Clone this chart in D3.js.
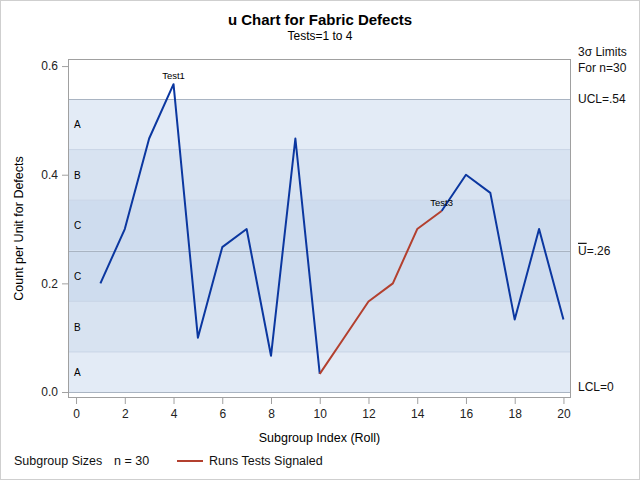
<!DOCTYPE html>
<html>
<head>
<meta charset="utf-8">
<script src="https://cdn.jsdelivr.net/npm/d3@7"></script>
<style>
  body { margin: 0; background: #fff; }
  text { font-family: "Liberation Sans", Arial, sans-serif; }
</style>
</head>
<body>
<script>
// Subgroup index (roll) and count of defects (n = 30 units per subgroup)
const subgroups = [1, 2, 3, 4, 5, 6, 7, 8, 9, 10, 11, 12, 13, 14, 15, 16, 17, 18, 19, 20];
const defects = [6, 9, 14, 17, 3, 8, 9, 2, 14, 1, 3, 5, 6, 9, 10, 12, 11, 4, 9, 4];
const sampleSize = 30;
const uValues = defects.map(d => d / sampleSize);

// Control limits
const uBar = 0.26;
const sigma = Math.sqrt(uBar / sampleSize);
const ucl = uBar + 3 * sigma;
const lcl = 0;

// Runs tests signaled: flagged subgroup range, and labels
const signaledRange = [10, 15];
const testLabels = [{ index: 4, label: 'Test1' }, { index: 15, label: 'Test3' }];

const xTicks = [0, 2, 4, 6, 8, 10, 12, 14, 16, 18, 20];
const yTicks = [0.0, 0.2, 0.4, 0.6];

const W = 640, H = 480;
const plot = { left: 68, right: 571, top: 59, bottom: 398 };

const svg = d3.select('body').append('svg')
    .attr('width', W)
    .attr('height', H);

// outer border
svg.append('rect')
    .attr('x', 0.5).attr('y', 0.5)
    .attr('width', W - 1).attr('height', H - 1)
    .attr('fill', '#fff')
    .attr('stroke', '#cfcfcf');

const x = d3.scaleLinear().domain([-0.33, 20.31]).range([plot.left, plot.right]);
const y = d3.scaleLinear().domain([-0.011, 0.613]).range([plot.bottom, plot.top]);

// Zone bands
const zones = [
    { lo: uBar + 2 * sigma, hi: ucl, fill: '#e3ebf6' },
    { lo: uBar + sigma, hi: uBar + 2 * sigma, fill: '#d8e3f1' },
    { lo: uBar, hi: uBar + sigma, fill: '#cedcee' },
    { lo: uBar - sigma, hi: uBar, fill: '#cedcee' },
    { lo: uBar - 2 * sigma, hi: uBar - sigma, fill: '#d8e3f1' },
    { lo: lcl, hi: uBar - 2 * sigma, fill: '#e3ebf6' }
];
const zoneNames = ['A', 'B', 'C', 'C', 'B', 'A'];

svg.append('g').selectAll('rect')
    .data(zones)
    .enter().append('rect')
    .attr('x', plot.left)
    .attr('width', plot.right - plot.left)
    .attr('y', d => y(d.hi))
    .attr('height', d => y(d.lo) - y(d.hi))
    .attr('fill', d => d.fill);

// zone boundary lines
svg.append('g').selectAll('line')
    .data([uBar + 2 * sigma, uBar + sigma, uBar - sigma, uBar - 2 * sigma])
    .enter().append('line')
    .attr('x1', plot.left).attr('x2', plot.right)
    .attr('y1', d => y(d)).attr('y2', d => y(d))
    .attr('stroke', '#c8d4e6').attr('stroke-width', 1);

// control lines
svg.append('g').selectAll('line')
    .data([ucl, uBar, lcl])
    .enter().append('line')
    .attr('x1', plot.left).attr('x2', plot.right)
    .attr('y1', d => Math.round(y(d)) + 0.5).attr('y2', d => Math.round(y(d)) + 0.5)
    .attr('stroke', '#a9b4c2').attr('stroke-width', 1);

// zone labels
svg.append('g').selectAll('text')
    .data(zones)
    .enter().append('text')
    .attr('x', 74)
    .attr('y', d => y((d.lo + d.hi) / 2) + 4)
    .attr('font-size', 10)
    .attr('fill', '#000')
    .text((d, i) => zoneNames[i]);

// frame
svg.append('rect')
    .attr('x', plot.left + 0.5).attr('y', plot.top + 0.5)
    .attr('width', plot.right - plot.left - 1).attr('height', plot.bottom - plot.top - 1)
    .attr('fill', 'none')
    .attr('stroke', '#a0a0a0');

// axes
const xAxis = svg.append('g')
    .attr('transform', `translate(0,${plot.bottom})`)
    .call(d3.axisBottom(x).tickValues(xTicks).tickSize(6).tickPadding(5).tickFormat(d3.format('d')));
const yAxis = svg.append('g')
    .attr('transform', `translate(${plot.left},0)`)
    .call(d3.axisLeft(y).tickValues(yTicks).tickSize(6).tickPadding(4).tickFormat(d3.format('.1f')));
[xAxis, yAxis].forEach(a => {
    a.select('.domain').remove();
    a.selectAll('line').attr('stroke', '#a0a0a0');
    a.selectAll('text').attr('font-size', 12).attr('fill', '#222')
        .attr('font-family', '"Liberation Sans", Arial, sans-serif');
});

// data line, split into normal and signaled pieces
const pts = subgroups.map((s, i) => ({ s, u: uValues[i] }));
const line = d3.line().x(d => x(d.s)).y(d => y(d.u));
const pieces = [
    { data: pts.filter(d => d.s <= signaledRange[0]), color: '#0b37a0' },
    { data: pts.filter(d => d.s >= signaledRange[1]), color: '#0b37a0' },
    { data: pts.filter(d => d.s >= signaledRange[0] && d.s <= signaledRange[1]), color: '#b3402f' }
];

svg.append('g').selectAll('path')
    .data(pieces)
    .enter().append('path')
    .attr('d', d => line(d.data))
    .attr('fill', 'none')
    .attr('stroke', d => d.color)
    .attr('stroke-width', 2)
    .attr('stroke-linejoin', 'round');

// test labels
svg.append('g').selectAll('text')
    .data(testLabels)
    .enter().append('text')
    .attr('x', d => x(d.index))
    .attr('y', d => y(uValues[d.index - 1]) - 5)
    .attr('text-anchor', 'middle')
    .attr('font-size', 9.5)
    .attr('fill', '#000')
    .text(d => d.label);

// right-side limit labels
const rx = 578;
const right = svg.append('g').attr('font-size', 12).attr('fill', '#111');
right.append('text').attr('x', rx).attr('y', 56).text('3σ Limits');
right.append('text').attr('x', rx).attr('y', 72).text('For n=30');
right.append('text').attr('x', rx).attr('y', y(ucl) + 4).text('UCL=' + d3.format('.2f')(ucl).replace(/^0/, ''));
const ubarText = right.append('text').attr('x', rx).attr('y', y(uBar) + 4);
ubarText.append('tspan').style('text-decoration', 'overline').text('U');
ubarText.append('tspan').text('=' + d3.format('.2f')(uBar).replace(/^0/, ''));
right.append('text').attr('x', rx).attr('y', y(lcl) - 1).text('LCL=' + lcl);

// titles
svg.append('text')
    .attr('x', 320).attr('y', 25)
    .attr('text-anchor', 'middle')
    .attr('font-size', 15).attr('font-weight', 'bold')
    .text('u Chart for Fabric Defects');
svg.append('text')
    .attr('x', 320).attr('y', 40)
    .attr('text-anchor', 'middle')
    .attr('font-size', 12)
    .text('Tests=1 to 4');

// axis labels
svg.append('text')
    .attr('x', (plot.left + plot.right) / 2).attr('y', 442)
    .attr('text-anchor', 'middle')
    .attr('font-size', 12.5)
    .text('Subgroup Index (Roll)');
svg.append('text')
    .attr('transform', `translate(23,${(plot.top + plot.bottom) / 2}) rotate(-90)`)
    .attr('text-anchor', 'middle')
    .attr('font-size', 12.5)
    .text('Count per Unit for Defects');

// legend
const legend = svg.append('g').attr('font-size', 12.5).attr('fill', '#111');
legend.append('text').attr('x', 14).attr('y', 465).text('Subgroup Sizes');
legend.append('text').attr('x', 114).attr('y', 465).text('n = ' + sampleSize);
legend.append('line')
    .attr('x1', 177).attr('x2', 203).attr('y1', 461).attr('y2', 461)
    .attr('stroke', '#b3402f').attr('stroke-width', 2);
legend.append('text').attr('x', 209).attr('y', 465).text('Runs Tests Signaled');
</script>
</body>
</html>
